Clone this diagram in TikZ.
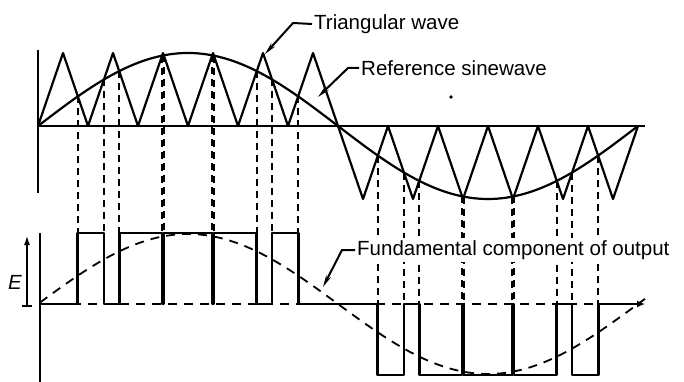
\documentclass[tikz,border=0pt]{standalone}
\usepackage{fontspec}
\setmainfont{Liberation Sans}
\usetikzlibrary{arrows.meta}

\begin{document}
\begin{tikzpicture}[
  x=1pt, y=-1pt,
  >=Latex,
  every node/.style={font=\fontsize{20.5}{24}\selectfont},
  wave/.style={line width=2.2pt, line join=round},
  pulse/.style={line width=2.8pt, line join=round},
  proj/.style={line width=1.8pt, dash pattern=on 7pt off 5pt},
  zero/.style={line width=1.8pt, dash pattern=on 9pt off 7pt},
  leader/.style={line width=2pt, {Stealth[length=12pt,width=5pt]}-},
  lbl/.style={anchor=west, inner sep=2pt}
]
\useasboundingbox (0,0) rectangle (684,382);

% axes
\draw[wave] (38,50) -- (38,193);
\draw[wave] (38,126) -- (645,126);
\draw[wave] (40,233) -- (40,382);

% triangular wave and reference sinewave
\draw[wave] (38,126)
  \foreach \k in {0,...,5} { -- ({63+50*\k},53) -- ({88+50*\k},126) }
  \foreach \k in {0,...,5} { -- ({363+50*\k},199) -- ({388+50*\k},126) };
\draw[wave] plot[domain=0:600, samples=151] ({38+\x},{126-73*sin(0.6*\x)});
\fill (451,97) circle (1.8pt);

% projections of the crossings
\foreach \xa/\tv in {77.85/.406, 103.92/.637, 119.22/.751, 162.08/.963,
    163.79/.968, 212.21/.968, 213.92/.963, 256.78/.751, 272.08/.637, 298.15/.406} {
  \draw[proj] (\xa,{126-73*\tv}) -- (\xa,233);
  \draw[proj] ({\xa+300},{126+73*\tv}) -- ({\xa+300},304);
}

% output voltage
\draw[zero] (40,304) -- (645,304);
\draw[zero] plot[domain=2:607, samples=151] ({38+\x},{304-70*sin(0.6*\x)});
\draw[pulse, -{Latex[length=8pt,width=7pt]}] (40,304)
  \foreach \xl/\xr in {77.85/103.92, 119.22/162.08, 163.79/212.21,
      213.92/256.78, 272.08/298.15}
    { -- (\xl,304) -- (\xl,233) -- (\xr,233) -- (\xr,304) }
  \foreach \xl/\xr in {377.85/403.92, 419.22/462.08, 463.79/512.21,
      513.92/556.78, 572.08/598.15}
    { -- (\xl,304) -- (\xl,375) -- (\xr,375) -- (\xr,304) }
  -- (645,304);

% E
\node[font=\fontsize{20.5}{24}\selectfont\itshape] (elabel) at (15,282) {E};
\coordinate (ebot) at (27,307);
\coordinate (etop) at (27,235);
\draw[line width=2pt, {Bar[width=10pt]}-{Latex[length=10pt,width=6pt]}] (ebot) -- (etop);

% labels
\node[lbl] (trilabel) at (312,24) {Triangular wave};
\coordinate (tritip) at (265,54);
\coordinate (tribend) at (293,23);
\draw[leader] (tritip) -- (tribend) -- (trilabel.west);

\node[lbl] (sinlabel) at (359,68) {Reference sinewave};
\coordinate (sintip) at (318,97);
\coordinate (sinbend) at (348,68);
\draw[leader] (sintip) -- (sinbend) -- (sinlabel.west);

\node[lbl, fill=white] (fundlabel) at (355,250) {Fundamental component of output};
\coordinate (fundtip) at (323,287);
\coordinate (fundbend) at (342,250);
\draw[leader] (fundtip) -- (fundbend) -- (fundlabel.west);
\end{tikzpicture}
\end{document}
